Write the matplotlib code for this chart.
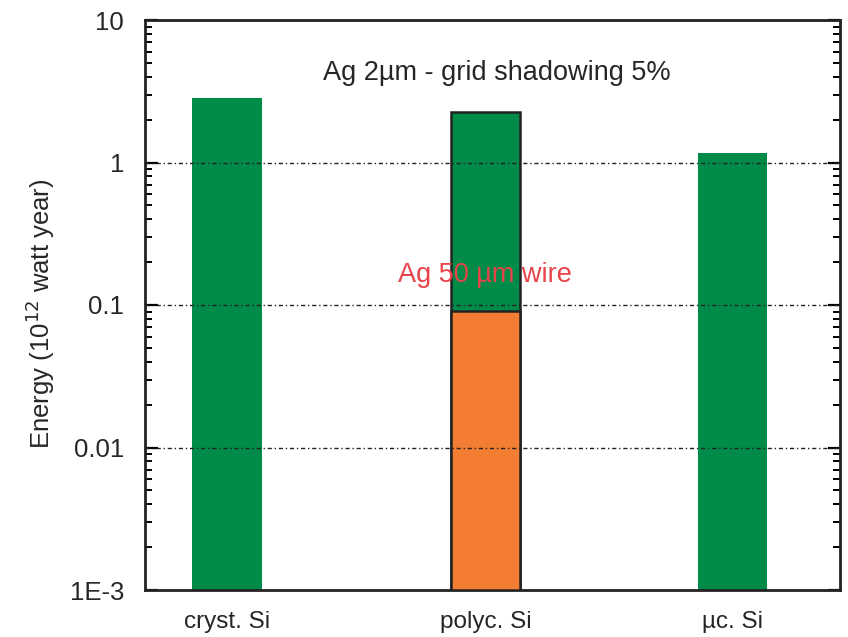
import matplotlib.pyplot as plt
import numpy as np
from matplotlib.ticker import FixedLocator, LogLocator, NullFormatter

plt.rcParams['font.family'] = ['Liberation Sans', 'DejaVu Sans']

categories = ['cryst. Si', 'polyc. Si', 'µc. Si']
x_pos = [0.0, 1.023, 2.0]
total_energy = [2.84, 2.26, 1.17]   # green bars (10^12 watt year)
wire_energy = 0.091                 # orange part of polyc. Si
ytick_vals = [1e-3, 0.01, 0.1, 1, 10]
ytick_labels = ['1E-3', '0.01', '0.1', '1', '10']

green = '#008c48'
orange = '#f37d32'
txt = '#262626'

fig = plt.figure(figsize=(8.48, 6.37), dpi=100)
ax = fig.add_axes([145 / 848, 1 - 590 / 637, 695 / 848, 570 / 637])

width = 0.275
bottom = 1e-3

for i, (xi, val) in enumerate(zip(x_pos, total_energy)):
    if i == 1:
        ax.bar(xi, val - bottom, width, bottom=bottom, color=green,
               edgecolor='#222222', linewidth=1.8, zorder=2)
        ax.bar(xi, wire_energy - bottom, width, bottom=bottom, color=orange,
               edgecolor='#222222', linewidth=1.8, zorder=3)
    else:
        ax.bar(xi, val - bottom, width, bottom=bottom, color=green, zorder=2)

ax.set_yscale('log')
ax.set_ylim(1e-3, 10)
ax.set_xlim(-0.3246, 2.426)

# dotted grid lines at interior decades
for v in ytick_vals[1:-1]:
    ax.axhline(v, color='#222222', linestyle=(0, (3, 2, 1, 2)), linewidth=1.0, zorder=4)

ax.yaxis.set_major_locator(FixedLocator(ytick_vals))
ax.set_yticklabels(ytick_labels)
ax.yaxis.set_minor_locator(LogLocator(base=10, subs=np.arange(2, 10)))
ax.yaxis.set_minor_formatter(NullFormatter())
ax.tick_params(axis='y', which='major', direction='in', length=9, width=1.6,
               right=True, labelsize=18.5, pad=15, labelcolor=txt)
ax.tick_params(axis='y', which='minor', direction='in', length=5, width=1.4, right=True)

ax.set_xticks(x_pos)
ax.set_xticklabels(categories)
ax.tick_params(axis='x', length=0, labelsize=17.5, pad=15, labelcolor=txt)

for s in ax.spines.values():
    s.set_linewidth(2)
    s.set_color('#222222')

ax.set_ylabel('Energy (10$^{12}$ watt year)', fontsize=18.5, labelpad=9, color=txt)
ax.yaxis.label.set_y(0.485)

ax.text(1.068, 4.25, 'Ag 2µm - grid shadowing 5%', ha='center', va='center',
        fontsize=19.5, color=txt)
ax.text(1.02, 0.163, 'Ag 50 µm wire', ha='center', va='center',
        fontsize=19.5, color='#e8434a', zorder=5)

fig.savefig('out.png', dpi=100)
